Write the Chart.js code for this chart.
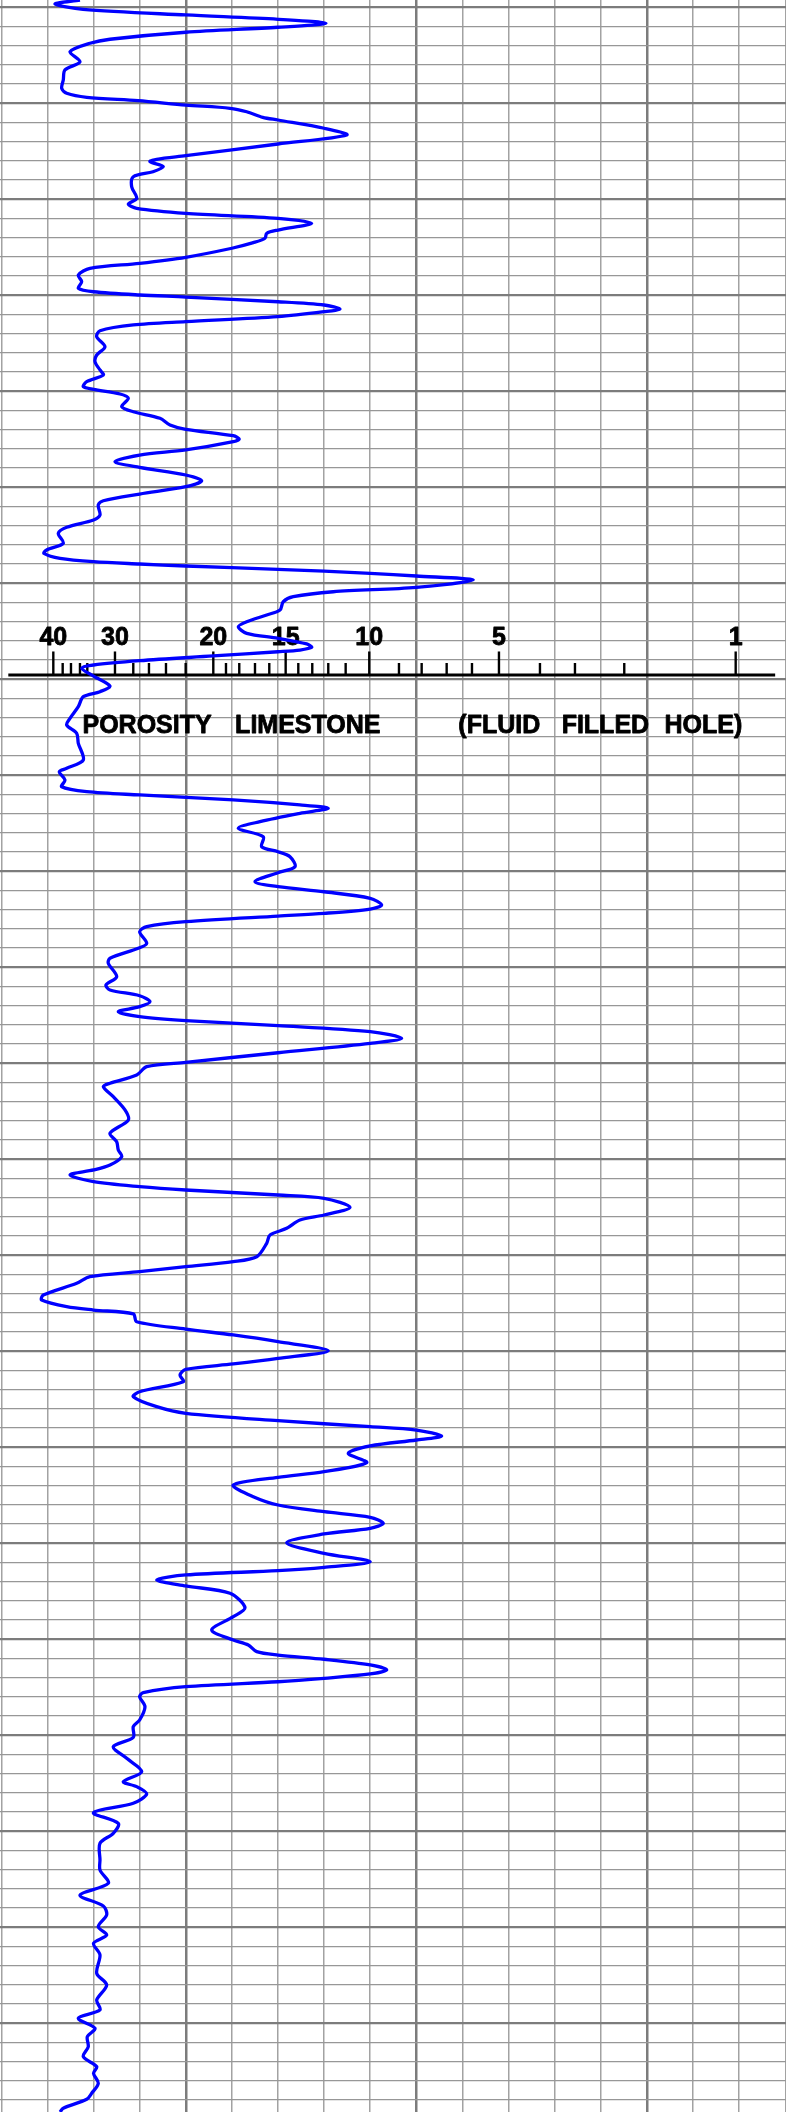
<!DOCTYPE html>
<html><head><meta charset="utf-8">
<script src="https://cdn.jsdelivr.net/npm/chart.js@4.4.1/dist/chart.umd.min.js"></script>
<style>html,body{margin:0;padding:0;background:#fff;}#wrap{width:786px;height:2112px;}canvas{display:block;}</style>
</head><body><div id="wrap"><canvas id="c" width="786" height="2112"></canvas></div>
<script>
// depth in feet (2 ft per grid division, heavy line every 10 ft)
const depthFt = [
-0.76,-0.34,0.21,0.80,1.25,1.67,2.08,2.60,3.33,3.75,
4.63,5.67,6.53,7.57,8.44,8.96,9.38,9.73,10.18,10.52,
10.88,11.46,11.74,12.60,13.30,14.24,15.46,15.83,16.08,16.60,
17.13,17.65,18.69,19.90,20.49,20.94,21.46,21.98,22.50,23.20,
23.54,24.06,24.52,25.10,26.04,26.67,27.19,27.89,28.58,29.27,
29.63,29.97,30.18,30.67,31.01,31.43,31.71,32.23,32.75,33.09,
33.69,34.31,35.35,36.22,36.92,37.78,38.30,39.00,39.52,39.79,
40.28,40.73,41.60,42.13,42.81,43.51,43.96,44.63,44.97,45.25,
46.11,46.64,47.33,47.92,48.72,49.31,49.94,50.70,51.40,51.84,
52.89,53.41,54.17,54.79,55.83,56.53,56.88,57.40,57.75,57.99,
58.20,58.54,58.96,59.24,59.66,60.42,60.88,61.40,61.92,62.78,
63.30,64.00,64.52,65.21,65.73,66.32,66.67,66.95,67.13,67.57,
68.06,68.51,68.85,69.66,70.70,71.29,71.81,72.85,74.06,74.76,
75.63,76.67,78.41,79.27,79.63,80.49,81.19,81.71,82.05,82.57,
83.09,83.44,83.96,84.83,85.52,86.40,87.44,87.96,88.48,89.52,
90.15,91.08,91.60,92.13,92.81,93.51,93.93,94.38,94.66,95.25,
95.77,96.29,97.50,98.02,99.06,99.58,100.98,101.84,102.36,102.96,
103.58,104.10,104.63,105.15,105.56,106.08,106.71,107.40,107.92,108.90,
109.90,110.35,111.22,112.08,112.44,113.48,114.86,115.91,117.29,118.17,
119.03,119.73,120.59,121.11,121.63,122.33,122.85,123.20,123.72,124.06,
125.00,125.80,126.32,127.19,127.89,128.75,130.15,130.67,131.19,131.71,
132.23,132.92,134.14,134.66,135.35,135.70,136.11,136.92,137.68,138.30,
139.00,139.94,140.73,141.32,141.88,142.47,143.17,144.21,144.73,145.77,
146.46,147.23,147.85,148.20,148.82,149.24,149.86,150.63,151.60,152.54,
153.13,153.93,155.15,156.01,156.71,157.29,157.92,158.44,159.03,159.94,
161.04,161.92,162.50,162.85,163.30,163.82,164.44,165.21,166.71,167.65,
169.03,170.07,170.59,171.29,171.64,172.08,172.67,173.19,173.61,174.06,
174.42,174.94,175.56,175.98,177.02,178.41,179.10,180.21,181.19,182.40,
183.79,184.83,185.35,186.11,187.08,188.06,189.17,190.21,191.25,192.99,
194.03,195.42,196.64,197.78,198.71,199.94,200.80,201.67,202.88,204.79,
206.01,207.57,208.61,209.48,210.52,211.40,212.44,213.48,214.52,215.21,
216.25,217.29,217.92,218.85,219.24
];
// curve reading, in chart divisions
const reading = [
1.706,1.164,1.773,4.0,6.0,7.04,6.0,4.0,2.357,1.923,
1.490,1.706,1.381,1.344,1.310,1.418,1.852,2.964,4.0,4.959,
5.321,5.67,6.0,7.0,7.489,6.0,4.0,3.369,3.224,3.513,
3.289,2.862,2.827,2.936,2.754,2.936,4.0,6.0,6.730,6.0,
5.755,5.718,5.464,5.0,4.0,3.0,1.923,1.670,1.743,1.670,
2.0,3.0,4.0,6.0,7.0,7.344,7.0,6.0,4.0,2.862,
2.140,2.069,2.248,2.069,2.032,2.140,2.212,1.852,1.778,2.0,
2.574,2.754,2.611,2.862,3.441,3.658,4.0,5.03,5.160,5.03,
4.0,3.0,2.465,3.0,4.0,4.345,4.0,3.0,2.212,2.103,
2.140,2.0,1.418,1.236,1.344,0.984,0.926,1.273,2.0,3.0,
4.0,6.0,8.0,9.0,10.234,9.0,7.198,6.331,6.114,6.043,
5.755,5.321,5.139,5.321,6.0,6.622,6.730,6.476,6.0,4.597,
3.0,2.0,1.743,2.0,2.357,2.140,1.778,1.670,1.490,1.418,
1.635,1.670,1.778,1.418,1.258,1.381,1.310,1.852,3.0,5.03,
6.476,7.090,6.476,5.609,5.139,5.681,5.646,6.0,6.260,6.368,
6.0,5.501,6.0,7.0,8.0,8.248,8.0,7.0,6.0,4.0,
3.153,3.0,3.153,2.970,2.357,2.320,2.502,2.270,2.357,3.0,
3.224,3.0,2.537,3.0,4.0,6.0,8.0,8.682,8.0,6.0,
4.0,3.153,2.936,2.357,2.212,2.428,2.682,2.754,2.357,2.502,
2.537,2.611,2.357,2.0,1.490,2.0,3.0,4.0,6.0,7.0,
7.561,7.0,6.476,6.188,5.826,5.755,5.538,5.03,4.0,3.0,
1.923,1.635,0.911,0.876,1.418,2.0,2.862,2.936,4.0,5.03,
6.0,7.090,6.0,5.03,4.0,3.875,3.946,3.0,2.862,3.369,
4.0,6.0,8.0,9.0,9.549,9.0,8.0,7.524,7.923,7.0,
6.0,5.03,5.464,6.0,7.0,8.0,8.283,8.0,7.0,6.188,
7.0,8.0,7.0,6.0,4.0,3.369,4.0,4.959,5.284,5.03,
4.562,5.03,5.356,5.538,6.0,7.0,8.0,8.357,8.0,7.0,
6.0,4.0,3.079,3.0,3.116,3.0,2.862,2.862,2.428,2.719,
3.044,2.645,2.936,3.153,2.862,2.0,2.537,2.428,2.140,2.140,
2.140,2.320,1.706,2.212,2.285,2.103,2.285,2.0,2.140,2.069,
2.285,2.069,2.140,1.670,2.032,1.865,1.886,1.778,2.069,2.0,
2.103,1.960,1.852,1.344,1.273
];
const gridDepths = [];
for (let d = 0; d <= 218; d += 2) gridDepths.push(d);
const gridCols = [0,1,2,3,4,5,6,7,8,9,10,11,12,13,14,15,16,17];

// porosity (limestone) scale
const porosityMajorLabels = ['40','30','20','15','10','5','1'];
const porosityMajorPos = [1.128,2.465,4.597,6.166,7.979,10.791,15.924];
const porosityMinorPos = [1.331,1.511,1.706,1.865,2.862,3.202,3.571,3.998,4.872,5.160,5.501,5.811,6.440,6.743,7.090,7.467,8.623,9.115,9.657,10.206,11.680,12.439,13.508];
const scaleStart = 0.152, scaleEnd = 16.78, scaleDepth = 69.55;
const captionWords = ['POROSITY','LIMESTONE','(FLUID','FILLED','HOLE)'];
const captionPos = [1.76,5.07,9.91,12.15,14.38];
const captionDepth = 75.6;

const points = depthFt.map((d, i) => ({x: reading[i], y: d}));

function boldText(ctx, t, px, py) {
  ctx.fillText(t, px, py);
  ctx.strokeText(t, px, py);
}

const scaleOverlay = {
  id: 'porosityScale',
  beforeDatasetsDraw(chart) {
    const {ctx, scales: {x, y}} = chart;
    const by = y.getPixelForValue(scaleDepth);
    ctx.save();
    ctx.strokeStyle = '#000';
    ctx.lineWidth = 3;
    ctx.beginPath();
    ctx.moveTo(x.getPixelForValue(scaleStart), by);
    ctx.lineTo(x.getPixelForValue(scaleEnd), by);
    ctx.stroke();
    ctx.lineWidth = 2.4;
    porosityMajorPos.forEach(v => {
      const px = x.getPixelForValue(v);
      ctx.beginPath(); ctx.moveTo(px, by); ctx.lineTo(px, by - 23.5); ctx.stroke();
    });
    porosityMinorPos.forEach(v => {
      const px = x.getPixelForValue(v);
      ctx.beginPath(); ctx.moveTo(px, by); ctx.lineTo(px, by - 12); ctx.stroke();
    });
    ctx.fillStyle = '#000';
    ctx.lineWidth = 0.8;
    ctx.lineJoin = 'round';
    ctx.font = 'bold 25px "Liberation Sans", Arial, sans-serif';
    ctx.textAlign = 'center';
    ctx.textBaseline = 'alphabetic';
    porosityMajorLabels.forEach((t, i) => boldText(ctx, t, x.getPixelForValue(porosityMajorPos[i]), by - 30));
    ctx.font = 'bold 25px "Liberation Sans", Arial, sans-serif';
    ctx.textAlign = 'left';
    const cy = y.getPixelForValue(captionDepth);
    captionWords.forEach((w, i) => boldText(ctx, w, x.getPixelForValue(captionPos[i]), cy));
    ctx.restore();
  }
};

new Chart(document.getElementById('c'), {
  type: 'line',
  data: {
    datasets: [{
      data: points,
      borderColor: '#0000ff',
      borderWidth: 3.3,
      pointRadius: 0,
      pointHoverRadius: 0,
      tension: 0.3,
      fill: false
    }]
  },
  options: {
    indexAxis: 'y',
    responsive: false,
    animation: false,
    events: [],
    layout: {padding: 0},
    plugins: {legend: {display: false}, tooltip: {enabled: false}},
    scales: {
      x: {
        type: 'linear',
        min: -0.028, max: 17.015,
        afterBuildTicks: s => { s.ticks = gridCols.map(v => ({value: v})); },
        ticks: {display: false},
        border: {display: false},
        grid: {
          drawTicks: false,
          color: c => (c.tick && (c.tick.value + 1) % 5 === 0) ? '#7c7c7c' : '#a2a2a2',
          lineWidth: c => (c.tick && (c.tick.value + 1) % 5 === 0) ? 2.5 : 1.5
        }
      },
      y: {
        type: 'linear',
        reverse: true,
        min: -0.76, max: 219.24,
        afterBuildTicks: s => { s.ticks = gridDepths.map(v => ({value: v})); },
        ticks: {display: false},
        border: {display: false},
        grid: {
          drawTicks: false,
          color: c => (c.tick && c.tick.value % 10 === 0) ? '#7c7c7c' : '#979797',
          lineWidth: c => (c.tick && c.tick.value % 10 === 0) ? 2.2 : 1.2
        }
      }
    }
  },
  plugins: [scaleOverlay]
});
</script>
</body></html>
